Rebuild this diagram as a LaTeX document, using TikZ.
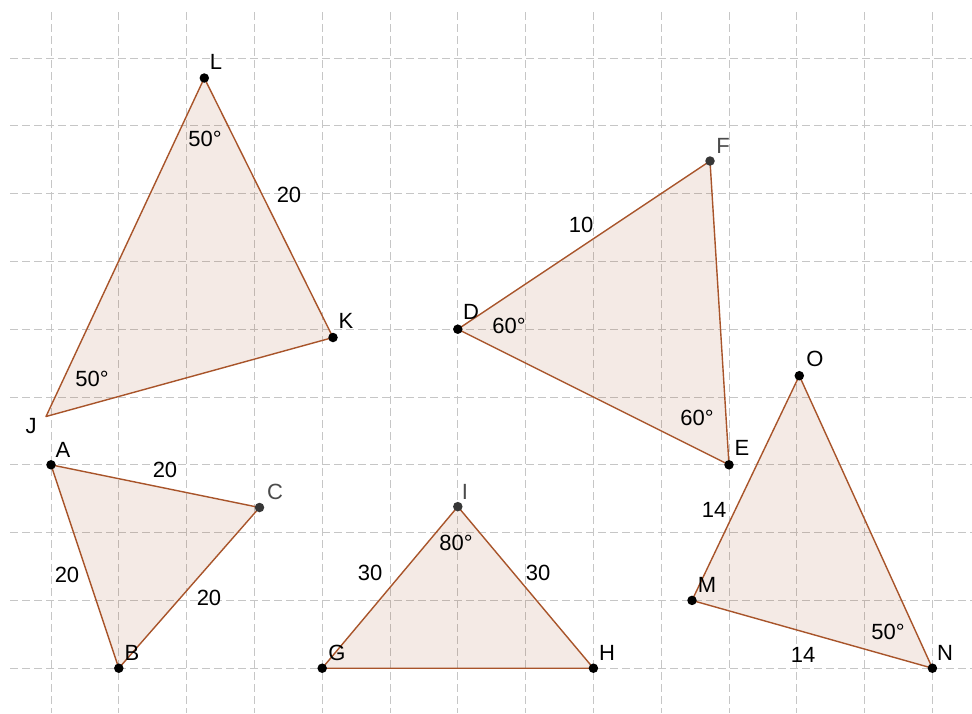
\documentclass[tikz,border=0pt]{standalone}
\usepackage{fontspec}
\setmainfont{Liberation Sans}
\definecolor{edgec}{RGB}{168,84,42}
\definecolor{fillc}{RGB}{153,51,0}
\definecolor{gridc}{RGB}{198,198,198}
\definecolor{darkpt}{RGB}{55,55,55}
\begin{document}
\begin{tikzpicture}[x=1pt,y=-1pt,
  gridline/.style={gridc,line width=1pt,dash pattern=on 7.5pt off 4.5pt},
  tri/.style={draw=edgec,line width=1.4pt,fill=fillc,fill opacity=0.1,line join=round},
  ptdot/.style={circle,fill=black,inner sep=0pt,minimum size=9.5pt},
  ptdotg/.style={circle,fill=darkpt,inner sep=0pt,minimum size=9.5pt},
  lbl/.style={inner sep=0pt,font=\fontsize{22}{26}\selectfont},
  lblg/.style={lbl,text=darkpt!90!white}]
\useasboundingbox[fill=white] (0,0) rectangle (972,713);
% grid
\foreach \i in {0,...,13}{\draw[gridline] ({51+67.8*\i},12) -- ({51+67.8*\i},713);}
\foreach \j in {0,...,9}{\draw[gridline] (10,{58+67.8*\j}) -- (972,{58+67.8*\j});}
% points
\coordinate (A) at (51,464.8);
\coordinate (B) at (118.8,668.2);
\coordinate (C) at (259.5,507.5);
\coordinate (G) at (322.2,668.2);
\coordinate (H) at (593.4,668.2);
\coordinate (I) at (457.8,506.6);
\coordinate (J) at (46,416.5);
\coordinate (K) at (333,337.5);
\coordinate (L) at (204.3,78);
\coordinate (D) at (457.8,329.2);
\coordinate (E) at (729,464.8);
\coordinate (F) at (710,161);
\coordinate (M) at (692,600.4);
\coordinate (N) at (932.4,668.2);
\coordinate (O) at (799.3,375.7);
% triangles
\draw[tri] (A) -- (B) -- (C) -- cycle;
\draw[tri] (G) -- (H) -- (I) -- cycle;
\draw[tri] (J) -- (K) -- (L) -- cycle;
\draw[tri] (D) -- (E) -- (F) -- cycle;
\draw[tri] (M) -- (N) -- (O) -- cycle;
% dots
\foreach \p in {A,B,G,H,K,L,D,E,M,N,O}{\node[ptdot] (dot\p) at (\p) {};}
\foreach \p in {C,F,I}{\node[ptdotg] (dot\p) at (\p) {};}
% point labels
\node[lbl] (lA) at (63,450) {A};
\node[lbl] (lB) at (132,653) {B};
\node[lblg] (lC) at (275,492) {C};
\node[lbl] (lD) at (471,312) {D};
\node[lbl] (lE) at (742,448) {E};
\node[lblg] (lF) at (723,146) {F};
\node[lbl] (lG) at (337,653) {G};
\node[lbl] (lH) at (607,653) {H};
\node[lblg] (lI) at (465,492) {I};
\node[lbl] (lJ) at (31,426) {J};
\node[lbl] (lK) at (346,321) {K};
\node[lbl] (lL) at (216,62) {L};
\node[lbl] (lM) at (707,585) {M};
\node[lbl] (lN) at (945,653) {N};
\node[lbl] (lO) at (815,359) {O};
% side lengths
\node[lbl] (sAC) at (165,470) {20};
\node[lbl] (sAB) at (67,575) {20};
\node[lbl] (sBC) at (209,598) {20};
\node[lbl] (sGI) at (370,573) {30};
\node[lbl] (sHI) at (538,573) {30};
\node[lbl] (sLK) at (289,195) {20};
\node[lbl] (sDF) at (581,225) {10};
\node[lbl] (sMO) at (714,510) {14};
\node[lbl] (sMN) at (803,655) {14};
% angles
\node[lbl] (aL) at (205,139) {50°};
\node[lbl] (aJ) at (92,379) {50°};
\node[lbl] (aI) at (456,543) {80°};
\node[lbl] (aD) at (509,326) {60°};
\node[lbl] (aE) at (697,418) {60°};
\node[lbl] (aN) at (888,632) {50°};
\end{tikzpicture}
\end{document}
